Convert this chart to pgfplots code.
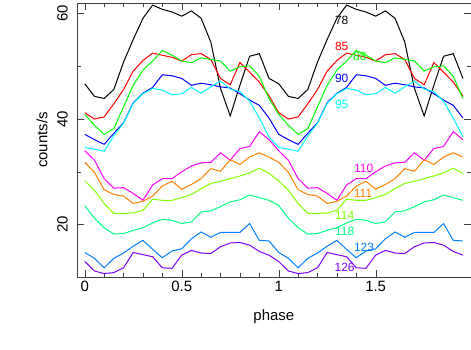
\documentclass[border=0pt]{standalone}
\usepackage{fontspec}
\setmainfont{Liberation Sans}
\usepackage{pgfplots}
\usepackage{pgfplotstable}
\pgfplotsset{compat=1.18}

% phase  78   85   88   90   95   110  111  114  118  123  126
\pgfplotstableread{
p    a    b    c    d    e    f    g    h    i    j    k
0.00 46.7 41.2 40.9 37.1 34.6 34.0 31.8 28.3 23.6 14.7 13.0
0.05 44.3 40.0 38.8 36.1 34.3 32.2 29.9 26.5 21.2 13.6 11.2
0.10 43.9 40.4 37.1 35.2 33.9 28.7 26.6 24.0 19.4 11.8 10.7
0.15 45.6 42.9 38.2 37.3 36.8 26.9 25.7 22.1 18.2 13.6 10.9
0.20 50.8 45.6 42.3 39.3 39.2 27.0 25.4 22.1 18.3 14.6 11.8
0.25 55.1 49.1 46.4 43.1 43.0 25.9 24.0 22.2 18.9 15.9 14.7
0.30 59.1 51.1 49.3 44.9 44.8 24.6 24.4 22.7 19.4 17.0 14.3
0.35 61.6 52.5 51.0 46.0 45.8 27.5 25.4 24.8 20.3 15.3 13.9
0.40 60.8 52.1 53.0 48.4 45.5 28.7 27.3 24.6 21.0 13.7 11.8
0.45 60.3 51.7 52.1 48.2 44.6 28.7 28.2 24.6 20.8 15.0 11.7
0.50 59.5 51.0 51.0 47.7 44.8 30.0 26.7 25.1 20.2 15.4 14.2
0.55 60.5 52.2 50.7 46.4 46.0 31.1 27.6 25.7 20.5 17.3 15.1
0.60 59.1 52.4 51.6 46.8 44.9 31.7 28.7 26.8 22.4 18.6 14.6
0.65 54.6 51.3 51.3 46.5 46.1 31.8 30.6 27.8 22.6 17.6 14.5
0.70 45.8 47.7 51.0 46.1 47.2 33.6 30.1 28.2 23.4 18.5 15.8
0.75 40.6 46.5 49.1 45.9 45.7 32.2 32.3 28.7 24.3 18.5 16.5
0.80 46.4 50.7 49.9 44.8 45.2 34.4 31.4 29.2 24.7 18.5 16.6
0.85 51.9 48.9 50.1 43.6 43.4 34.8 32.8 29.8 25.6 20.2 16.1
0.90 52.4 47.0 48.1 42.6 40.2 37.6 33.6 30.7 25.1 17.0 14.9
0.95 47.7 44.4 43.9 40.2 36.6 36.1 32.8 29.7 24.6 16.9 14.2
1.00 46.7 41.2 40.9 37.1 34.6 34.0 31.8 28.3 23.6 14.7 13.0
1.05 44.3 40.0 38.8 36.1 34.3 32.2 29.9 26.5 21.2 13.6 11.2
1.10 43.9 40.4 37.1 35.2 33.9 28.7 26.6 24.0 19.4 11.8 10.7
1.15 45.6 42.9 38.2 37.3 36.8 26.9 25.7 22.1 18.2 13.6 10.9
1.20 50.8 45.6 42.3 39.3 39.2 27.0 25.4 22.1 18.3 14.6 11.8
1.25 55.1 49.1 46.4 43.1 43.0 25.9 24.0 22.2 18.9 15.9 14.7
1.30 59.1 51.1 49.3 44.9 44.8 24.6 24.4 22.7 19.4 17.0 14.3
1.35 61.6 52.5 51.0 46.0 45.8 27.5 25.4 24.8 20.3 15.3 13.9
1.40 60.8 52.1 53.0 48.4 45.5 28.7 27.3 24.6 21.0 13.7 11.8
1.45 60.3 51.7 52.1 48.2 44.6 28.7 28.2 24.6 20.8 15.0 11.7
1.50 59.5 51.0 51.0 47.7 44.8 30.0 26.7 25.1 20.2 15.4 14.2
1.55 60.5 52.2 50.7 46.4 46.0 31.1 27.6 25.7 20.5 17.3 15.1
1.60 59.1 52.4 51.6 46.8 44.9 31.7 28.7 26.8 22.4 18.6 14.6
1.65 54.6 51.3 51.3 46.5 46.1 31.8 30.6 27.8 22.6 17.6 14.5
1.70 45.8 47.7 51.0 46.1 47.2 33.6 30.1 28.2 23.4 18.5 15.8
1.75 40.6 46.5 49.1 45.9 45.7 32.2 32.3 28.7 24.3 18.5 16.5
1.80 46.4 50.7 49.9 44.8 45.2 34.4 31.4 29.2 24.7 18.5 16.6
1.85 51.9 48.9 50.1 43.6 43.4 34.8 32.8 29.8 25.6 20.2 16.1
1.90 52.4 47.0 48.1 42.6 40.2 37.6 33.6 30.7 25.1 17.0 14.9
1.95 47.7 44.4 43.9 40.2 36.6 36.1 32.8 29.7 24.6 16.9 14.2
}\lc

\definecolor{c78}{RGB}{0,0,0}
\definecolor{c85}{RGB}{255,0,0}
\definecolor{c88}{RGB}{0,255,0}
\definecolor{c90}{RGB}{0,0,255}
\definecolor{c95}{RGB}{0,255,255}
\definecolor{c110}{RGB}{255,0,255}
\definecolor{c111}{RGB}{255,128,0}
\definecolor{c114}{RGB}{128,255,0}
\definecolor{c118}{RGB}{0,255,128}
\definecolor{c123}{RGB}{0,128,255}
\definecolor{c126}{RGB}{128,0,255}

\begin{document}
\begin{tikzpicture}
\useasboundingbox (-77bp,-72.7bp) rectangle (394bp,277.3bp);
\begin{axis}[
  at={(0,0)}, anchor=south west,
  scale only axis, width=393.7bp, height=274.3bp,
  xmin=-0.04, xmax=1.99, ymin=10, ymax=62,
  xtick={0,0.5,1,1.5}, minor x tick num=4,
  ytick={20,40,60}, minor y tick num=1,
  tick pos=both, tick align=inside,
  major tick length=7bp, minor tick length=4bp,
  axis line style={black!75}, tick style={black!75},
  /pgf/number format/assume math mode=true,
  ticklabel style={font=\fontsize{15}{18}\selectfont},
  yticklabel style={rotate=90, anchor=south, inner ysep=9bp},
  xlabel={phase}, ylabel={counts/s},
  every axis x label/.style={at={(axis description cs:0.5,-0.1436)}, anchor=center, font=\fontsize{15}{18}\selectfont},
  every axis y label/.style={at={(axis description cs:-0.0889,0.5)}, anchor=center, rotate=90, font=\fontsize{15}{18}\selectfont},
  every axis plot/.append style={line width=1bp, mark=none},
]
\addplot[c78]  table[x=p,y=a] {\lc};
\addplot[c85]  table[x=p,y=b] {\lc};
\addplot[c88]  table[x=p,y=c] {\lc};
\addplot[c90]  table[x=p,y=d] {\lc};
\addplot[c95]  table[x=p,y=e] {\lc};
\addplot[c110] table[x=p,y=f] {\lc};
\addplot[c111] table[x=p,y=g] {\lc};
\addplot[c114] table[x=p,y=h] {\lc};
\addplot[c118] table[x=p,y=i] {\lc};
\addplot[c123] table[x=p,y=j] {\lc};
\addplot[c126] table[x=p,y=k] {\lc};
\node[font=\fontsize{12}{14}\selectfont,text=c78]  at (axis cs:1.325,58.7) {78};
\node[font=\fontsize{12}{14}\selectfont,text=c85]  at (axis cs:1.325,53.8) {85};
\node[font=\fontsize{12}{14}\selectfont,text=c88]  at (axis cs:1.418,51.8) {88};
\node[font=\fontsize{12}{14}\selectfont,text=c90]  at (axis cs:1.325,47.8) {90};
\node[font=\fontsize{12}{14}\selectfont,text=c95]  at (axis cs:1.325,42.8) {95};
\node[font=\fontsize{12}{14}\selectfont,text=c110] at (axis cs:1.438,30.7) {110};
\node[font=\fontsize{12}{14}\selectfont,text=c111] at (axis cs:1.435,25.9) {111};
\node[font=\fontsize{12}{14}\selectfont,text=c114] at (axis cs:1.34,21.8) {114};
\node[font=\fontsize{12}{14}\selectfont,text=c118] at (axis cs:1.34,18.7) {118};
\node[font=\fontsize{12}{14}\selectfont,text=c123] at (axis cs:1.44,15.75) {123};
\node[font=\fontsize{12}{14}\selectfont,text=c126] at (axis cs:1.34,11.8) {126};
\end{axis}
\end{tikzpicture}
\end{document}
